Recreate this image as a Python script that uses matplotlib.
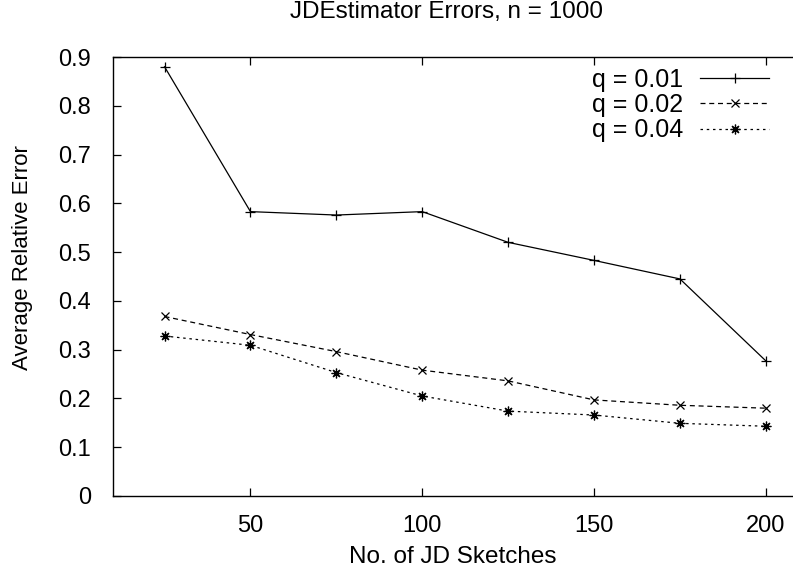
import matplotlib
matplotlib.use("Agg")
import matplotlib.pyplot as plt

plt.rcParams['font.family'] = ['Liberation Sans', 'DejaVu Sans']

sketches = [25, 50, 75, 100, 125, 150, 175, 200]
err_q001 = [0.880, 0.583, 0.576, 0.583, 0.520, 0.483, 0.445, 0.277]
err_q002 = [0.368, 0.331, 0.296, 0.258, 0.236, 0.197, 0.186, 0.180]
err_q004 = [0.328, 0.309, 0.253, 0.205, 0.174, 0.166, 0.149, 0.143]
labels = ["q = 0.01", "q = 0.02", "q = 0.04"]
xticks = [50, 100, 150, 200]
yticks = [0, 0.1, 0.2, 0.3, 0.4, 0.5, 0.6, 0.7, 0.8, 0.9]

W, H = 793, 573
fig = plt.figure(figsize=(W / 100, H / 100), dpi=100)
left, right, top, bottom = 113, 793, 57, 496
ax = fig.add_axes([left / W, 1 - bottom / H, (right - left) / W, (bottom - top) / H])

lw = 0.9
asterisk = (8, 2, 0)
ax.plot(sketches, err_q001, color='black', lw=lw, ls='-', marker='+', ms=7, mew=0.9, label=labels[0])
ax.plot(sketches, err_q002, color='black', lw=lw, ls=(0, (4, 3)), marker='x', ms=6, mew=0.9, label=labels[1])
ax.plot(sketches, err_q004, color='black', lw=lw, ls=(0, (2, 3)), marker=asterisk, ms=7, mew=0.9, label=labels[2])

ax.set_xlim(10, 207.9)
ax.set_ylim(0, 0.9)
ax.set_xticks(xticks)
ax.set_yticks(yticks)
ax.set_yticklabels(['0' if v == 0 else f'{v:.1f}' for v in yticks])
ax.tick_params(direction='in', length=6, width=0.9, labelsize=17, top=True, right=False)
ax.tick_params(axis='x', pad=14)
ax.tick_params(axis='y', pad=16)
for s in ['left', 'bottom', 'top']:
    ax.spines[s].set_linewidth(1.0)
ax.spines['right'].set_visible(False)

ax.set_xlabel("No. of JD Sketches", fontsize=17.5, labelpad=6)
ax.set_ylabel("Average Relative Error", fontsize=16)
ax.yaxis.set_label_coords((33 - left) / (right - left), (bottom - 258) / (bottom - top))
fig.text(447 / W, 1 - 12 / H, "JDEstimator Errors, n = 1000", fontsize=17.5, ha='center', va='center')

leg = ax.legend(loc='upper right', bbox_to_anchor=((769 - left) / (right - left), 0.975), frameon=False,
                markerfirst=False, fontsize=18, handlelength=2.75, handletextpad=0.7, labelspacing=0.05,
                borderaxespad=0, borderpad=0)
for t in leg.get_texts():
    t.set_ha('right')

fig.savefig("out.png", dpi=100)
